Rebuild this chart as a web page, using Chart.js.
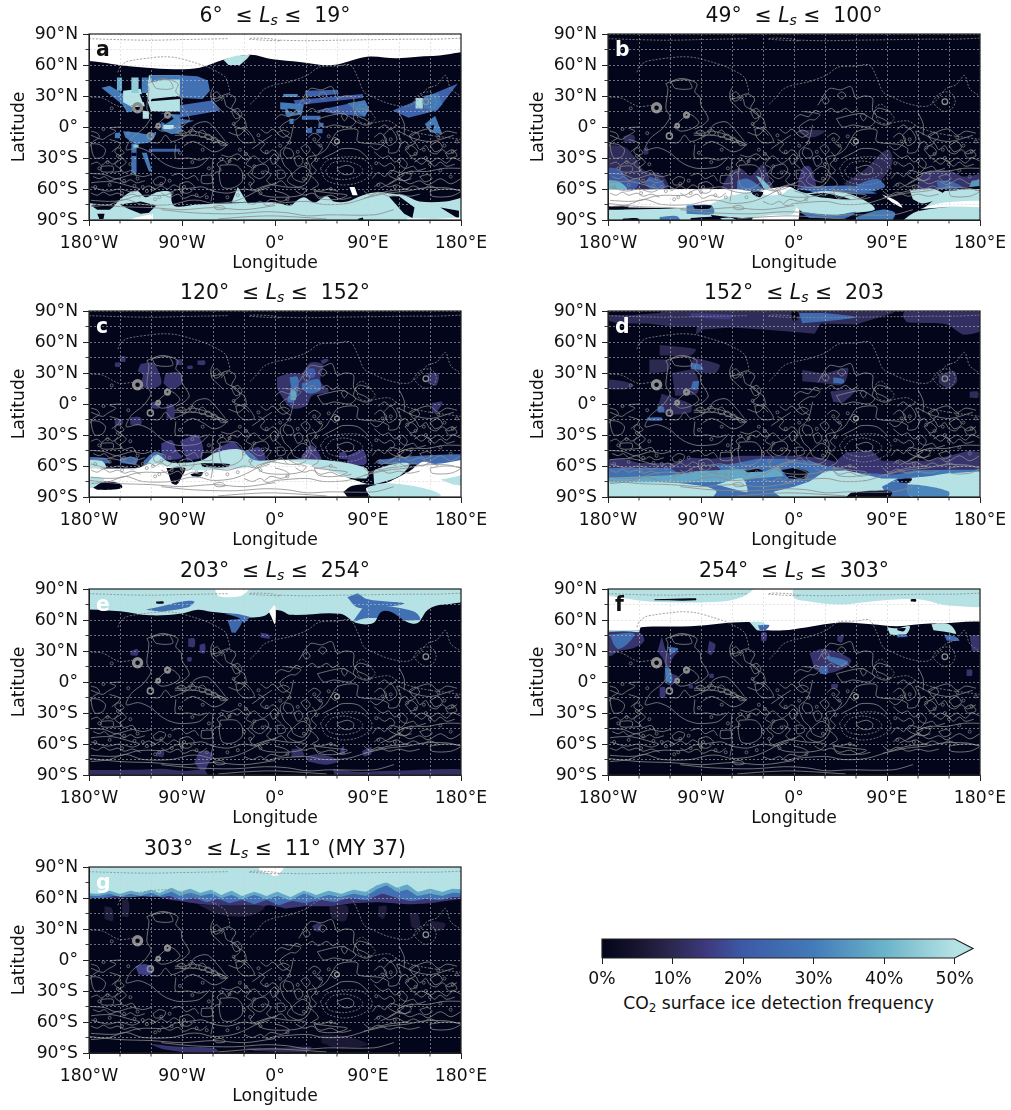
<!DOCTYPE html>
<html>
<head>
<meta charset="utf-8">
<title>CO2 surface ice detection frequency</title>
<script src="https://cdn.jsdelivr.net/npm/chart.js@4/dist/chart.umd.min.js"></script>
<style>
  body { margin: 0; background: #fff; font-family: "DejaVu Sans", sans-serif; color: #111; }
  #page { position: relative; width: 1011px; height: 1110px; overflow: hidden; }
  canvas { position: absolute; }
  .title { position: absolute; width: 372px; text-align: center; font-size: 20.4px; line-height: 24px; white-space: pre; }
  .title sub { font-size: 14px; line-height: 0; vertical-align: -3px; font-style: italic; }
  .letter { position: absolute; font-weight: bold; font-size: 20.4px; line-height: 24px; }
  .barlabel { position: absolute; left: 560px; width: 437px; top: 992px; text-align: center; font-size: 17.2px; line-height: 22px; }
  .barlabel sub { font-size: 12px; line-height: 0; vertical-align: -3px; }
</style>
</head>
<body>
<div id="page"></div>
<script>
// tick labels
const lonLabels = { '-180': '180°W', '-90': '90°W', '0': '0°', '90': '90°E', '180': '180°E' };
const latLabels = { '90': '90°N', '60': '60°N', '30': '30°N', '0': '0°', '-30': '30°S', '-60': '60°S', '-90': '90°S' };
const colorbarTicks = [0, 10, 20, 30, 40, 50];

// [detection percent, outline in lon/lat]. percent null = no data (white)
const panelA = [
  [0, [[-180,65.5],[-169,62.6],[-147,59.4],[-124,57.4],[-98,56],[-73,57.4],[-50,65],[-24,70],[-2,65.5],[24,63],[56,60],[89,68],[118,66.5],[153,68.7],[180,66.5],[180,-90],[-180,-90]]],
  [50, [[-50,65],[-38,69],[-24,70],[-27,66],[-34,60],[-45,60]]],
  [50, [[-180,-68],[-177,-74],[-170,-78],[-158,-78],[-152,-72],[-140,-63],[-133,-62],[-125,-68],[-114,-63],[-101,-63],[-100,-72],[-96,-77],[-75,-75],[-50,-74],[-15,-73],[0,-73],[15,-76],[20,-72],[28,-68],[38,-73],[50,-67],[57,-72],[70,-72],[85,-66],[100,-63],[110,-64],[125,-66],[140,-72],[165,-72],[180,-67],[180,-90],[-180,-90]]],
  [0, [[-178,-76],[-165,-75],[-156,-77],[-160,-80],[-172,-80]]],
  [0, [[-150,-75],[-130,-72],[-115,-76],[-122,-83],[-130,-84],[-142,-79]]],
  [50, [[-42,-73],[-36,-58],[-27,-73]]],
  [0, [[110,-67],[120,-67],[135,-78],[133,-88],[125,-84]]],
  [0, [[160,-78],[178,-81],[178,-89]]],
  [0, [[80,-89],[85,-87.5],[87,-90]]],
  [0, [[-172,-84],[-170,-89],[-166,-89],[-165,-84]]],
  [null, [[72,-58],[77,-58],[80,-66],[75,-66]]],
  [null, [[-163,-90],[-135,-87.5],[-118,-84],[-118,-90]]],
  [null, [[128,-88],[155,-89],[180,-86],[180,-90],[128,-90]]],
  // Tharsis swaths
  [27, [[-92,50],[-75,49],[-65,45],[-63,35],[-70,27],[-92,28]]],
  [24, [[-92,21],[-60,26],[-53,16],[-92,9]]],
  [50, [[-122,50],[-92,50],[-92,15],[-120,15],[-125,30]]],
  [30, [[-121,50],[-92,50],[-92,46],[-108,46],[-120,43]]],
  [0, [[-120,27],[-92,30],[-92,27],[-120,25]]],
  [30, [[-168,38],[-160,40],[-138,27],[-135,16],[-143,14],[-148,22]]],
  [50, [[-147,35],[-130,37],[-126,20],[-138,19],[-147,24]]],
  [38, [[-153,48],[-148,48],[-148,35],[-153,35]]],
  [45, [[-139,48],[-132,48],[-132,33],[-139,33]]],
  [30, [[-129,48],[-123,48],[-123,33],[-129,33]]],
  [0, [[-131,32],[-124,31],[-122,25],[-128,24]]],
  [30, [[-110,13],[-92,12],[-90,-5],[-100,-7],[-110,-3]]],
  [24, [[-92,8],[-78,6],[-92,2]]],
  [0, [[-113,12],[-103,13],[-98,8],[-106,3],[-112,6]]],
  [0, [[-120,15],[-114,15],[-114,10],[-120,10]]],
  [50, [[-128,16],[-122,15],[-122,8],[-128,8]]],
  [0, [[-137,9],[-131,9],[-131,3],[-137,3]]],
  [30, [[-147,-4],[-135,-5],[-122,-7],[-115,-5],[-120,-14],[-128,-16],[-136,-16],[-145,-10]]],
  [30, [[-155,-6],[-150,-5],[-150,-11],[-155,-11]]],
  [28, [[-139,-16],[-134,-16],[-134,-45],[-139,-45]]],
  [0, [[-139,-25],[-134,-25],[-134,-28],[-139,-28]]],
  [30, [[-129,-25],[-124,-25],[-119,-43],[-122,-43]]],
  [45, [[-137,-17],[-132,-17],[-132,-20],[-137,-20]]],
  [22, [[-122,-21],[-92,-21],[-92,-24],[-122,-24]]],
  [50, [[-108,2],[-98,2],[-98,-2],[-108,-2]]],
  // Arabia swaths
  [22, [[29,35],[60,36],[62,32],[30,29]]],
  [32, [[8,32],[22,32],[22,29],[8,29]]],
  [20, [[18,26],[85,32],[85,28],[20,21]]],
  [21, [[40,16],[87,26],[91,18],[87,10],[56,13]]],
  [30, [[70,23],[87,26],[91,18],[87,10],[80,14]]],
  [30, [[5,24],[28,22],[26,12],[12,10],[5,18]]],
  [0, [[12,18],[20,17],[22,13],[14,14]]],
  [0, [[5,17],[10,17],[10,12],[5,12]]],
  [26, [[26,11],[44,11],[44,7],[26,7]]],
  [30, [[14,8],[18,8],[18,3],[14,3]]],
  [24, [[30,-1],[36,-1],[36,-6],[30,-6]]],
  [24, [[40,-2],[46,-2],[46,-6],[40,-6]]],
  [24, [[42,4],[47,4],[47,0],[42,0]]],
  // Elysium swaths
  [22, [[114,16],[177,42],[157,16],[129,9]]],
  [30, [[144,30],[158,33],[162,22],[156,16],[144,18]]],
  [48, [[136,28],[143,28],[143,18],[136,18]]],
  [30, [[145,3],[155,11],[162,-7],[150,-5]]],
  [0, [[150,1],[154,2],[153,-3],[150,-3]]]
];

const panelB = [
  [0, [[-180,90],[180,90],[180,-90],[-180,-90]]],
  [11, [[-165,-9],[-155,-8],[-155,-15],[-165,-15]]],
  [11, [[-180,-18],[-165,-19],[-155,-28],[-145,-42],[-130,-45],[-122,-55],[-125,-62],[-180,-62]]],
  [12, [[-146,-22],[-142,-19],[-141,-26],[-145,-27]]],
  [20, [[-180,-42],[-172,-40],[-160,-50],[-150,-52],[-155,-60],[-180,-60]]],
  [22, [[-140,-48],[-128,-52],[-125,-58],[-138,-60],[-145,-55]]],
  [40, [[-180,-53],[-172,-52],[-162,-60],[-180,-60]]],
  [12, [[-72,-62],[-62,-45],[-52,-40],[-42,-47],[-30,-36],[-24,-50],[-17,-64]]],
  [27, [[-55,-52],[-45,-50],[-35,-56],[-28,-63],[-55,-63]]],
  [42, [[-37,-47],[-31,-50],[-20,-63],[-27,-63]]],
  [14, [[3,-60],[8,-40],[15,-38],[20,-50],[22,-60]]],
  [10, [[5,-6],[18,-10],[30,-4],[20,-3],[5,-3]]],
  [11, [[48,-55],[70,-40],[85,-25],[92,-22],[95,-35],[80,-55],[60,-62]]],
  [25, [[60,-56],[80,-50],[88,-58],[68,-62]]],
  [13, [[118,-60],[125,-45],[150,-42],[165,-48],[180,-42],[180,-60]]],
  [24, [[138,-53],[150,-52],[165,-60],[140,-60]]],
  [35, [[172,-52],[180,-50],[180,-62],[168,-62]]],
  [28, [[8,-58],[60,-57],[80,-62],[20,-64]]],
  [null, [[-180,-61],[-60,-60],[-40,-62],[0,-60],[0,-90],[-45,-90],[-40,-85],[-80,-80],[-180,-77]]],
  [50, [[-85,-77],[-65,-68],[-40,-63],[-25,-66],[-10,-64],[-5,-60],[0,-60],[0,-83],[-20,-85],[-50,-88],[-90,-84]]],
  [50, [[-180,-80],[-120,-79],[-85,-77],[-78,-88],[-60,-88],[-45,-90],[-180,-90]]],
  [30, [[-104,-76],[-80,-76],[-78,-84],[-104,-84]]],
  [0, [[-98,-76],[-80,-76],[-82,-79],[-96,-79]]],
  [30, [[-130,-87],[-112,-87],[-112,-90],[-130,-90]]],
  [0, [[-180,-77],[-160,-77],[-165,-79.5],[-180,-79.5]]],
  [0, [[-165,-88.5],[-150,-89],[-155,-90],[-175,-90]]],
  [0, [[-100,-88],[-72,-88],[-68,-90],[-100,-90]]],
  [0, [[-42,-62],[-30,-63],[-33,-68],[-40,-65]]],
  [25, [[2,-60],[12,-58],[40,-58],[80,-64],[30,-64]]],
  [50, [[0,-60],[12,-64],[30,-62],[55,-65],[75,-75],[78,-80],[60,-83],[30,-86],[10,-83],[0,-76]]],
  [0, [[14,-65],[30,-64],[55,-70],[45,-70],[25,-68]]],
  [0, [[80,-65],[95,-62],[100,-68],[90,-68]]],
  [27, [[5,-82],[40,-85],[60,-82],[50,-88],[15,-88]]],
  [30, [[60,-87],[85,-80],[98,-84],[85,-90],[60,-90]]],
  [50, [[95,-90],[122,-81],[180,-80],[180,-90]]],
  [50, [[112,-61],[135,-60],[145,-66],[125,-74],[115,-70]]],
  [50, [[146,-62],[180,-60],[180,-73],[125,-79]]],
  [null, [[122,-79],[146,-73],[180,-72],[180,-77],[150,-77]]],
  [null, [[85,-65],[100,-72],[105,-78],[95,-73]]],
  [0, [[152,-60],[180,-56],[180,-60]]]
];

const panelC = [
  [0, [[-180,90],[180,90],[180,-90],[-180,-90]]],
  // Tharsis
  [13, [[-130,39],[-118,40],[-113,32],[-110,20],[-118,15],[-130,18],[-128,28],[-133,32]]],
  [13, [[-106,30],[-92,30],[-90,20],[-100,14],[-108,20]]],
  [13, [[-150,46],[-145,46],[-145,41],[-150,41]]],
  [13, [[-155,40],[-150,40],[-150,36],[-155,36]]],
  [13, [[-96,43],[-90,43],[-90,38],[-96,38]]],
  [13, [[-85,37],[-80,37],[-80,34],[-85,34]]],
  [13, [[-75,42],[-68,42],[-68,38],[-75,38]]],
  [13, [[-140,-13],[-130,-13],[-130,-20],[-140,-20]]],
  [13, [[-155,-15],[-148,-15],[-148,-20],[-155,-20]]],
  [13, [[-105,-1],[-98,-1],[-98,-14],[-105,-14]]],
  [13, [[-120,2],[-112,2],[-112,-4],[-120,-4]]],
  // Arabia
  [13, [[2,26],[16,30],[26,30],[34,40],[46,38],[44,22],[52,12],[36,8],[30,-2],[16,-4],[8,5],[2,15]]],
  [13, [[46,38],[52,42],[50,44],[44,42]]],
  [28, [[14,26],[22,26],[22,12],[18,2],[12,3],[16,14]]],
  [38, [[15,14],[20,12],[20,4],[15,4]]],
  [26, [[26,20],[42,24],[44,14],[34,10],[26,14]]],
  [20, [[30,34],[38,34],[38,26],[30,26]]],
  [13, [[148,30],[158,29],[156,18],[148,20]]],
  [13, [[152,1],[162,2],[156,-8],[152,-8]]],
  // southern fringe
  [15, [[-110,-38],[-100,-35],[-95,-45],[-90,-52],[-110,-55]]],
  [15, [[-92,-36],[-75,-30],[-70,-50],[-85,-55]]],
  [15, [[-60,-45],[-50,-40],[-40,-37],[-30,-45],[-15,-42],[-10,-55],[-60,-58]]],
  [15, [[25,-52],[35,-40],[45,-53],[40,-57],[25,-57]]],
  [15, [[62,-47],[68,-47],[70,-53],[62,-53]]],
  [15, [[70,-50],[85,-45],[88,-58],[70,-58]]],
  [25, [[-180,-52],[-165,-52],[-160,-57],[-180,-58]]],
  [25, [[-150,-52],[-133,-52],[-135,-58],[-150,-57]]],
  [25, [[-127,-55],[-116,-46],[-108,-50],[-108,-60],[-127,-60]]],
  [28, [[-60,-50],[-30,-45],[-18,-52],[-15,-60],[-60,-60]]],
  [25, [[100,-54],[140,-50],[180,-50],[180,-58],[100,-58]]],
  [50, [[-180,-55],[-168,-55],[-164,-62],[-180,-62]]],
  [50, [[-127,-62],[-115,-49],[-105,-55],[-98,-57],[-72,-55],[-57,-47],[-34,-44],[-21,-54],[0,-54],[45,-54],[88,-62],[88,-72],[30,-66],[-120,-66]]],
  [50, [[95,-64],[115,-58],[130,-58],[120,-70],[96,-78]]],
  [null, [[-180,-62],[-135,-62],[-120,-58],[-100,-61],[-80,-64],[-40,-63],[-10,-58],[5,-54],[20,-56],[45,-62],[60,-67],[75,-73],[100,-78],[130,-65],[143,-56],[155,-58],[180,-56],[180,-90],[-180,-90]]],
  [50, [[-180,-70],[-166,-72],[-170,-80],[-180,-81]]],
  [50, [[160,-73],[180,-68],[180,-80],[172,-78]]],
  [0, [[-176,-81],[-165,-75],[-150,-77],[-148,-81],[-160,-83],[-172,-83]]],
  [0, [[-105,-62],[-87,-62],[-90,-70],[-95,-78],[-100,-77]]],
  [0, [[-72,-57],[-44,-58],[-46,-61],[-70,-61]]],
  [0, [[-82,-68],[-70,-66],[-72,-70],[-80,-70]]],
  [50, [[88,-78],[115,-77],[150,-83],[160,-89],[110,-90],[95,-90]]],
  [0, [[66,-85],[75,-79],[98,-78],[88,-82],[98,-90],[78,-90]]],
  [0, [[90,-62],[97,-60],[95,-66],[90,-66]]]
];

const panelD = [
  [0, [[-180,90],[180,90],[180,-90],[-180,-90]]],
  [11, [[-180,86],[-170,78],[-142,78],[-118,75],[-94,75],[-95,67],[-88,72],[-60,74],[-30,72],[-2,70],[20,68],[26,78],[60,77],[96,88],[100,90],[-115,90],[-130,88],[-160,86]]],
  [25, [[5,88],[28,88],[60,84],[30,80],[8,78]]],
  [15, [[-100,88],[-60,86],[-62,82],[-100,84]]],
  [12, [[105,85],[110,79],[148,77],[165,67],[180,78],[180,90],[110,90]]],
  [0, [[0,90],[5,84],[0,80],[-3,85]]],
  // Tharsis and Arabia patches
  [10, [[-130,57],[-95,53],[-100,47],[-130,47]]],
  [10, [[-140,43],[-120,42],[-122,32],[-140,30]]],
  [11, [[-118,30],[-98,33],[-92,22],[-94,10],[-115,8]]],
  [11, [[-98,45],[-72,38],[-76,30],[-100,32]]],
  [11, [[-128,10],[-100,0],[-100,-8],[-122,-10],[-132,-4]]],
  [26, [[-100,40],[-90,38],[-88,33],[-100,34]]],
  [25, [[-132,-2],[-126,-3],[-126,-8],[-132,-8]]],
  [25, [[-142,-13],[-128,-13],[-128,-16],[-142,-16]]],
  [25, [[-98,22],[-92,22],[-94,14],[-100,14]]],
  [11, [[-180,25],[-165,22],[-155,18],[-165,14],[-180,16]]],
  [11, [[8,33],[30,30],[52,35],[50,22],[44,18],[30,20],[8,22]]],
  [25, [[38,26],[48,24],[48,20],[38,20]]],
  [12, [[35,12],[60,14],[48,2],[38,2]]],
  [11, [[140,28],[155,32],[158,22],[150,15],[140,20]]],
  [11, [[170,12],[178,12],[178,6],[170,6]]],
  // south
  [13, [[-180,-54],[-165,-53],[-150,-57],[-115,-57],[-100,-52],[-80,-53],[-50,-50],[0,-50],[25,-52],[40,-56],[50,-47],[75,-45],[85,-55],[130,-55],[150,-50],[170,-45],[180,-50],[180,-90],[-180,-90]]],
  [27, [[-180,-62],[-120,-62],[-60,-58],[-35,-53],[-10,-53],[15,-55],[30,-60],[60,-64],[180,-64],[180,-90],[-180,-90]]],
  [13, [[-120,-62],[-75,-60],[-70,-68],[-110,-68]]],
  [14, [[40,-64],[65,-62],[120,-62],[100,-68],[60,-66]]],
  [38, [[-180,-72],[-120,-69],[-95,-65],[-50,-63],[-30,-66],[-15,-60],[-10,-70],[-40,-72],[-60,-75],[-100,-76],[-180,-78]]],
  [50, [[-180,-76],[-120,-76],[-85,-80],[-75,-85],[-90,-90],[-180,-90]]],
  [50, [[-75,-78],[-50,-72],[-45,-85],[-60,-82]]],
  [50, [[-20,-85],[0,-80],[15,-75],[30,-65],[50,-64],[85,-72],[100,-72],[85,-80],[90,-88],[65,-85],[60,-90],[0,-90]]],
  [50, [[110,-72],[130,-70],[155,-66],[180,-65],[180,-90],[120,-90],[110,-85]]],
  [32, [[110,-88],[110,-78],[150,-85],[145,-90]]],
  [30, [[100,-66],[130,-64],[180,-64],[130,-68]]],
  [0, [[-12,-64],[2,-62],[14,-66],[10,-72],[-5,-72]]],
  [0, [[100,-73],[114,-72],[112,-76],[102,-76]]],
  [0, [[55,-86],[75,-84],[95,-85],[85,-90],[40,-90]]],
  [0, [[-48,-64],[-35,-63],[-30,-65],[-45,-66]]]
];

const panelE = [
  [50, [[-180,90],[180,90],[180,50],[-180,50]]],
  [null, [[-63,90],[-21,90],[-30,85],[-45,82],[-55,83]]],
  [27, [[-125,70],[-115,72],[-90,78],[-78,78],[-85,72],[-110,68]]],
  [27, [[80,86],[90,80],[125,76],[100,72],[80,72],[70,82]]],
  [27, [[75,58],[90,62],[140,60],[135,68],[100,74],[85,72]]],
  [0, [[-180,71],[-150,68.5],[-121,64.5],[-92,66],[-75,70],[-62,68],[-43,66],[-24,62.5],[-10,64],[-3,69],[6,69],[15,65],[63,66],[79,57],[95,57],[103,68],[112,68],[128,58],[138,57],[148,70],[163,75],[180,71.5],[180,-90],[-180,-90]]],
  [27, [[-24,63],[-38,66],[-48,66],[-35,62],[-30,57]]],
  [0, [[-115,78],[-108,78],[-108,76],[-115,76]]],
  [null, [[-6,68],[0,74],[0,56],[-4,64]]],
  [24, [[-46,60],[-32,60],[-38,48],[-42,48]]],
  [14, [[-14,48],[-6,46],[-5,42],[-14,43]]],
  [13, [[-140,30],[-133,32],[-133,26],[-140,26]]],
  [13, [[-84,42],[-78,42],[-78,34],[-84,34]]],
  [14, [[-73,36],[-68,37],[-68,28],[-73,28]]],
  [14, [[-85,24],[-81,24],[-81,20],[-85,20]]],
  [12, [[-115,-68],[-108,-66],[-108,-72],[-115,-72]]],
  [14, [[-78,-78],[-72,-67],[-60,-70],[-65,-80],[-68,-86],[-72,-86]]],
  [12, [[16,-65],[25,-65],[28,-72],[16,-73]]],
  [13, [[30,-72],[42,-70],[62,-76],[50,-80],[32,-77]]],
  [15, [[62,-70],[66,-62],[68,-70]]],
  [13, [[84,-67],[93,-63],[93,-70],[86,-72]]],
  [12, [[-180,-85],[-130,-85],[-110,-84],[-90,-86],[-68,-86],[-65,-90],[-180,-90]]],
  [12, [[56,-84],[80,-87],[110,-86],[180,-86],[180,-90],[60,-90]]]
];

const panelF = [
  [null, [[-180,90],[180,90],[180,50],[-180,50]]],
  [50, [[-180,85],[-170,82],[-140,78],[-70,78],[-45,85],[-35,90],[-180,90]]],
  [50, [[0,90],[0,82],[15,78],[45,75],[75,78],[120,80],[150,74],[180,76],[180,90]]],
  [0, [[-135,80],[-95,81],[-95,79],[-135,79]]],
  [0, [[113,80],[118,80],[118,78],[113,78]]],
  [0, [[-180,50],[-150,50],[-148,53],[-100,54],[-40,58],[-32,51],[-25,50],[-10,50],[0,51],[45,57.5],[75,56],[100,54],[135,56.5],[180,49],[180,-90],[-180,-90]]],
  [50, [[-43,58],[-32,58],[-28,56],[-30,50],[-36,50]]],
  [50, [[90,53],[100,52],[112,54],[108,46],[93,46]]],
  [0, [[100,52],[108,52],[106,49],[100,50]]],
  [50, [[133,56],[150,56],[157,47],[150,48],[135,50]]],
  [50, [[-180,50],[-150,50],[-150,48],[-180,48]]],
  [13, [[-180,48],[-150,48],[-145,40],[-155,33],[-170,30],[-178,25],[-180,30]]],
  [26, [[-178,46],[-155,47],[-160,38],[-170,32],[-175,37]]],
  [13, [[-128,44],[-122,28],[-112,30],[-118,22],[-120,10],[-112,5],[-118,-3],[-125,0],[-125,18],[-132,30]]],
  [26, [[-122,34],[-112,32],[-120,26]]],
  [30, [[-125,14],[-120,12],[-118,0],[-124,0]]],
  [14, [[-130,-5],[-125,-5],[-125,-15],[-130,-15]]],
  [13, [[-82,40],[-76,36],[-80,26],[-84,28]]],
  [13, [[-82,8],[-78,8],[-78,4],[-82,4]]],
  [13, [[-102,-3],[-98,-3],[-98,-6],[-102,-6]]],
  [14, [[-32,48],[-27,48],[-27,40],[-32,40]]],
  [24, [[-35,55],[-24,55],[-28,50],[-33,50]]],
  [13, [[42,44],[48,46],[46,38],[42,40]]],
  [13, [[15,28],[30,32],[55,22],[50,14],[30,8],[20,12]]],
  [28, [[30,26],[52,20],[48,15],[34,20]]],
  [24, [[25,15],[32,15],[32,8],[25,8]]],
  [13, [[36,-2],[42,-2],[42,-6],[36,-6]]],
  [24, [[100,46],[108,46],[110,44],[100,43]]],
  [25, [[145,46],[156,44],[160,40],[148,40]]],
  [13, [[170,45],[180,45],[180,28],[172,30]]],
  [13, [[167,12],[172,12],[172,6],[167,6]]]
];

const panelG = [
  [50, [[-180,90],[180,90],[180,50],[-180,50]]],
  [null, [[-22,90],[12,90],[5,84],[0,81],[-6,84],[-14,86]]],
  [38, [[-180,66],[-170,64],[-160,67],[-150,64],[-140,67],[-130,65],[-120,68],[-112,65],[-100,70],[-92,66],[-82,69],[-72,65],[-62,68],[-52,63],[-42,67],[-32,62],[-20,66],[-8,62],[2,66],[15,61],[28,67],[40,63],[52,67],[64,64],[76,68],[88,66],[98,72],[108,75],[118,70],[128,73],[138,66],[150,69],[162,66],[172,69],[180,66],[180,50],[-180,50]]],
  [27, [[-180,63],[-170,62],[-160,64],[-150,61],[-140,64],[-130,62],[-120,65],[-112,62],[-100,66],[-92,62],[-82,65],[-72,62],[-62,64],[-52,60],[-42,63],[-32,59],[-20,63],[-8,59],[2,62],[15,58],[28,64],[40,60],[52,63],[64,61],[76,64],[88,62],[98,68],[108,72],[118,66],[128,68],[138,62],[150,64],[162,62],[172,65],[180,63],[180,50],[-180,50]]],
  [14, [[-180,61],[-168,60],[-155,62],[-140,60],[-128,62],[-115,60],[-102,62],[-90,58],[-78,60],[-66,56],[-55,59],[-44,55],[-32,58],[-20,54],[-8,58],[4,53],[16,57],[30,55],[44,58],[58,56],[72,60],[88,58],[104,64],[118,60],[132,57],[146,59],[160,58],[172,61],[180,60],[180,50],[-180,50]]],
  [0, [[-180,60],[-160,60],[-135,61],[-112,61],[-100,58],[-85,56],[-70,54],[-55,52],[-40,52],[-20,51],[-5,53],[10,50],[30,52],[55,52],[75,55],[100,56],[130,54],[150,55],[180,59],[180,-90],[-180,-90]]],
  [7, [[-75,54],[-45,53],[-10,52],[-20,44],[-40,42],[-60,46]]],
  [7, [[-165,52],[-158,50],[-157,38],[-165,40]]],
  [7, [[-148,58],[-142,58],[-142,42],[-148,42]]],
  [7, [[52,52],[70,52],[68,38],[55,40]]],
  [7, [[100,52],[108,52],[105,40],[100,42]]],
  [7, [[130,45],[138,45],[140,30],[132,32]]],
  [12, [[36,33],[44,36],[44,28],[38,28]]],
  [7, [[150,38],[165,35],[160,28],[150,30]]],
  [16, [[-135,-6],[-125,-4],[-118,-8],[-120,-14],[-132,-14]]],
  [13, [[-122,-81],[-90,-84],[-60,-85],[-55,-89],[-90,-89],[-110,-86]]],
  [10, [[-30,-85],[0,-85],[35,-84],[30,-89],[-20,-88]]],
  [6, [[45,-72],[70,-74],[90,-82],[60,-85],[45,-80]]]
];

// surface contours shared by every panel
const contourDashed = [
  [[-180,85.5],[-150,84.5],[-120,84],[-95,84.5],[-70,85],[-45,85.5]],
  [[-25,85],[-10,84],[5,83.5],[-5,85.5],[-22,86],[-25,85]],
  [[5,84],[30,83.5],[60,84],[95,84.5],[130,85],[155,85],[180,86]],
  [[-152,53],[-150,58],[-144,63],[-135,65],[-120,67],[-108,68],[-95,67],[-80,63],[-65,58],[-55,53],[-48,48],[-45,40],[-44,33],[-50,28],[-52,25]],
  [[-178,29],[-167,28],[-151,20],[-138,21]],
  [[-24,22],[-18,28],[-10,37],[1,41],[15,44],[31,50],[43,58],[60,59],[73,60],[80,48],[86,34],[93,30],[109,23],[128,20],[138,26],[147,37],[157,41],[165,50],[170,37],[178,31]],
  [[134,24],[139,31],[146,34],[153,32],[156,25],[153,18],[146,15],[140,18],[134,24]],
  [[78,15],[80,20],[85,22],[92,15],[97,8],[90,3],[82,5],[78,15]],
  [[90,3],[110,6],[120,0],[135,-5],[150,-8],[165,-10],[180,-12]],
  [[44,-40],[51,-32],[67,-29],[83,-30],[93,-38],[93,-46],[80,-54],[64,-56],[49,-51],[44,-40]],
  [[49,-42],[55,-35],[68,-33],[81,-37],[85,-42],[80,-48],[65,-51],[52,-48],[49,-42]]
];
const contourSolid = [
  // Tharsis
  [[-119,44],[-103,45.5],[-99,37.5],[-115,37.5],[-119,44]],
  [[-124,42],[-109,47],[-94,42],[-96,34],[-91,29],[-90,21],[-83,8],[-88,2],[-96,-2]],
  [[-124,42],[-122,37],[-124,18],[-120,10],[-126,0],[-129,-3],[-139,-11],[-144,-22],[-132,-20],[-120,-25],[-112,-32],[-104,-37],[-94,-40],[-84,-40],[-73,-38],[-63,-29]],
  [[-96,-17],[-96,-30],[-84,-30],[-73,-32],[-66,-30]],
  [[-120,-15],[-112,-15],[-106,-8],[-100,-14],[-91,-11],[-82,-6],[-78,2],[-66,5],[-56,-4],[-48,-14]],
  [[-116,0],[-108,8],[-100,12],[-92,4],[-100,-2],[-110,-4],[-116,0]],
  [[-97,-6],[-88,-6],[-80,-4],[-70,-6],[-62,-9],[-55,-13],[-47,-16]],
  [[-97,-8],[-88,-8],[-78,-8],[-68,-10],[-60,-13],[-52,-16],[-46,-18]],
  [[-95,-5],[-90,-3],[-86,-6],[-88,-9],[-95,-5]],
  [[-84,-4],[-80,-2],[-76,-6],[-80,-8],[-84,-4]],
  [[-74,-5],[-70,-3],[-66,-8],[-72,-10],[-74,-5]],
  [[-68,-8],[-64,-7],[-60,-11],[-66,-12],[-68,-8]],
  [[-62,-10],[-58,-10],[-54,-14],[-60,-15],[-62,-10]],
  [[-56,-13],[-52,-14],[-47,-17],[-52,-18],[-56,-13]],
  [[-88,-18],[-80,-14],[-70,-18],[-60,-24],[-52,-22],[-45,-16]],
  // north of the valles
  [[-62,27],[-50,28],[-47,20],[-37,15],[-34,8],[-40,2],[-30,-3],[-25,-8]],
  [[-60,38],[-62,33],[-61,25],[-56,20],[-50,14]],
  [[-52,30],[-45,32],[-38,27],[-42,18],[-36,12],[-30,8],[-28,0],[-35,-8],[-45,-5]],
  [[-60,32],[-56,34],[-52,28],[-58,25],[-60,32]],
  [[-42,15],[-36,18],[-32,12],[-38,8],[-42,15]],
  [[-38,-2],[-30,-1],[-24,-6],[-20,-14],[-30,-15],[-36,-10],[-38,-2]],
  // Arabia and Syrtis
  [[23,21],[34,37],[45,36],[55,39],[60,28],[68,30],[76,28],[76,16],[81,10],[86,8],[93,3],[86,2],[76,8],[81,18],[93,15]],
  [[41,8],[57,12],[66,13],[72,10],[78,5],[72,0],[57,2],[47,0],[41,8]],
  [[9,15],[18,14],[25,12],[20,7],[15,7],[5,0],[8,-6],[15,-11]],
  [[0,8],[6,12],[14,10],[20,16],[26,14]],
  [[30,14],[36,18],[42,14],[50,18],[56,14],[62,18]],
  [[-14,-2],[-8,-6],[-2,-2],[4,-8]],
  [[64,11],[67,13],[70,10],[67,6],[64,11]],
  [[42,31],[46,34],[50,31],[46,27],[42,31]],
  [[27,26],[31,29],[34,25],[30,22],[27,26]],
  [[18,2],[15,-11],[12,-17],[5,-24],[9,-37],[15,-43],[18,-50],[28,-53],[34,-40],[31,-30],[41,-27],[49,-22],[54,-14],[60,-5],[70,-2],[80,-3],[80,-14],[102,-17],[110,-21],[110,-25],[118,-24],[122,-14],[118,-4],[134,-11],[151,-14],[173,-8]],
  [[54,-14],[58,-10],[62,-14],[58,-18],[54,-14]],
  [[2,-6],[8,-3],[14,-6],[8,-10],[2,-6]],
  [[10,-20],[16,-22],[18,-28],[12,-30],[8,-25],[10,-20]],
  [[25,-20],[30,-17],[34,-22],[30,-26],[25,-20]],
  [[18,-30],[24,-28],[27,-34],[22,-38],[18,-30]],
  [[2,-42],[8,-42],[10,-48],[3,-50],[2,-42]],
  [[20,-42],[27,-38],[35,-45],[30,-55],[22,-58],[12,-52],[20,-42]],
  [[-5,-30],[0,-26],[3,-32],[-2,-36],[-5,-30]],
  [[36,-24],[40,-30],[35,-36],[40,-42],[36,-46]],
  [[32,-10],[38,-6],[44,-10],[40,-16],[46,-20],[42,-26]],
  [[-16,-12],[-10,-16],[-14,-22],[-8,-26],[-2,-22],[4,-28],[0,-34],[6,-40]],
  [[-10,-42],[-4,-46],[-8,-52],[-2,-56],[6,-52],[12,-58]],
  [[32,-46],[38,-50],[42,-56],[36,-60],[44,-62],[52,-60],[60,-62]],
  [[20,-62],[28,-66],[36,-64],[44,-68],[54,-66],[64,-70],[74,-68]],
  [[0,-62],[8,-64],[14,-68],[6,-72],[-4,-70],[-10,-74]],
  [[-30,-72],[-22,-75],[-14,-72],[-8,-76],[0,-74]],
  // Hellas
  [[60,-40],[70,-37],[76,-40],[75,-45],[67,-46],[62,-43],[60,-40]],
  [[47,-30],[57,-25],[65,-21],[80,-22],[90,-30]],
  [[96,-24],[104,-30],[110,-28],[116,-34],[122,-30],[128,-36],[122,-44],[112,-42],[106,-48],[100,-44],[94,-50]],
  [[122,-46],[131,-43],[147,-43],[164,-40],[180,-40]],
  [[102,-59],[115,-53],[125,-46]],
  [[86,-69],[109,-64],[128,-62],[144,-59],[167,-59],[180,-62]],
  [[110,-55],[120,-50],[130,-55],[140,-52],[148,-56],[160,-50],[170,-55],[180,-50]],
  [[118,-48],[126,-52],[132,-47],[126,-44],[118,-48]],
  [[135,-34],[142,-30],[150,-34],[158,-30],[166,-35],[172,-30],[180,-33]],
  [[126,-22],[132,-18],[138,-24],[132,-28],[126,-22]],
  [[150,-18],[158,-14],[162,-20],[155,-24],[150,-18]],
  [[165,-25],[172,-22],[176,-28],[168,-30],[165,-25]],
  [[105,-8],[112,-2],[118,-12],[110,-18],[105,-8]],
  [[130,-8],[136,-5],[140,-10],[134,-14],[130,-8]],
  [[140,-48],[148,-46],[152,-50],[145,-53],[140,-48]],
  [[125,-8],[125,3],[120,14]],
  [[96,-10],[102,-6],[108,-12],[104,-18],[98,-22],[92,-18]],
  [[120,-18],[126,-14],[130,-18],[136,-16],[140,-22],[146,-18],[150,-24],[156,-26],[162,-22],[168,-26],[176,-22]],
  [[100,-34],[106,-38],[112,-35],[116,-40],[110,-46],[116,-50],[124,-52],[132,-50]],
  [[130,-28],[136,-32],[142,-36],[148,-32],[154,-38],[160,-34],[166,-38],[174,-36]],
  [[120,-36],[126,-40],[134,-38],[138,-42],[146,-40]],
  [[96,-58],[102,-54],[110,-58],[118,-56],[126,-60],[134,-57],[142,-60],[150,-57],[158,-60]],
  [[86,-62],[92,-66],[100,-63],[110,-67],[120,-65],[130,-67],[140,-65]],
  [[130,-10],[140,-4],[150,-2],[158,-8],[166,-4],[176,-6]],
  [[100,-2],[106,2],[112,-2],[118,2]],
  // western highlands
  [[-178,-16],[-170,-17],[-164,-22],[-167,-29],[-174,-30],[-177,-24],[-178,-16]],
  [[-178,-8],[-167,-12],[-162,-9],[-154,-4],[-160,-1],[-150,0]],
  [[-180,-20],[-176,-14],[-170,-10],[-172,-6],[-178,-4]],
  [[-160,-12],[-150,-16],[-155,-24],[-148,-30],[-155,-36],[-148,-42],[-158,-44]],
  [[-158,-24],[-152,-20],[-146,-25],[-150,-28],[-144,-34],[-150,-40],[-146,-44],[-138,-42],[-134,-48]],
  [[-178,-36],[-172,-34],[-168,-37],[-162,-33],[-157,-36],[-152,-32]],
  [[-168,-38],[-157,-38],[-157,-43],[-168,-43],[-168,-38]],
  [[-178,-45],[-165,-46],[-154,-50],[-138,-46],[-128,-48],[-120,-46]],
  [[-176,-48],[-170,-50],[-165,-48],[-160,-52],[-152,-50],[-146,-54],[-140,-51],[-134,-54],[-126,-52]],
  [[-178,-54],[-169,-53],[-157,-53],[-148,-55],[-138,-58],[-131,-60],[-138,-63],[-150,-60],[-162,-62],[-178,-58]],
  [[-178,-64],[-172,-66],[-166,-63],[-160,-66],[-152,-64],[-146,-67],[-138,-65],[-130,-68]],
  [[-128,-60],[-122,-57],[-116,-60],[-110,-57],[-104,-60],[-98,-56],[-92,-59]],
  [[-110,-64],[-102,-68],[-94,-65],[-88,-69],[-80,-66],[-72,-68],[-66,-64]],
  [[-178,-71],[-160,-72],[-148,-71],[-135,-67],[-125,-66],[-106,-66],[-96,-61],[-80,-59],[-70,-58],[-60,-62],[-45,-64],[-30,-60],[-18,-62],[-5,-58]],
  [[-178,-77],[-160,-75],[-145,-70],[-128,-75],[-100,-75],[-83,-71],[-73,-71],[-60,-74],[-40,-72],[-25,-66],[-12,-59],[1,-54]],
  [[-71,-47],[-61,-47],[-61,-54],[-71,-54],[-71,-47]],
  [[-53,-37],[-38,-37],[-32,-43],[-32,-53],[-41,-59],[-51,-58],[-54,-46],[-53,-37]],
  [[-60,-30],[-61,-45],[-60,-60],[-62,-72]],
  [[-58,-44],[-52,-42],[-56,-36],[-50,-32],[-46,-36],[-42,-30],[-36,-32],[-32,-28]],
  [[-30,-24],[-24,-30],[-28,-36],[-22,-40],[-26,-46],[-20,-52],[-24,-58],[-18,-62]],
  [[-22,-21],[-12,-14],[-3,-8]],
  [[-52,-27],[-44,-29],[-36,-26],[-28,-32],[-20,-28],[-12,-35],[-4,-30]],
  [[-100,-47],[-92,-45],[-86,-50],[-78,-47],[-74,-52]],
  [[-118,-52],[-112,-48],[-106,-50],[-108,-55],[-116,-56],[-118,-52]],
  [[-92,-55],[-84,-53],[-78,-58],[-84,-64],[-92,-62],[-92,-55]],
  [[-20,-38],[-10,-36],[-6,-42],[-14,-50],[-22,-46],[-20,-38]],
  [[-18,-60],[-5,-56],[10,-58],[30,-60],[25,-66],[5,-68],[-12,-66],[-18,-60]],
  [[38,-62],[55,-64],[70,-66],[60,-70],[42,-69],[38,-62]],
  [[150,-62],[165,-60],[180,-62],[170,-67],[152,-67],[150,-62]],
  // south polar
  [[0,-74],[31,-72],[47,-75],[70,-74],[93,-67],[110,-62],[130,-60]],
  [[-180,-74],[-150,-77],[-120,-78],[-90,-80],[-60,-78],[-30,-80],[0,-76]],
  [[-110,-80],[-80,-83],[-40,-84],[-10,-82],[12,-83],[31,-86],[52,-85],[96,-85],[115,-80]],
  [[-55,-89],[-30,-87],[-5,-86],[20,-87],[50,-89]],
  [[-60,-77],[-52,-76],[-48,-79],[-56,-80],[-60,-77]]
];

// small closed contours drawn as rings
const craterLon = [-170,-162,-152,-146,-140,-133,-128,-118,-110,-102,-88,-80,-70,-64,-52,-44,-34,-28,-20,-12,-8,5,14,22,30,38,44,52,98,104,112,120,128,136,144,150,158,164,172,176,-174,-160,-148,-136,-124,-112,-100,-90,-76,-66,-46,-36,-24,-14,28,40,54,100,116,132,146,160,170,-166,-142,-116,-92,-40,-16,-158,-30,12];
const craterLat = [-40,-34,-28,-52,-36,-50,-58,-60,-55,-52,-58,-34,-22,-40,-31,-33,-22,-26,-38,-44,-24,-18,-15,-24,-36,-12,-18,-9,-35,-14,-12,-33,-20,-26,-22,-36,-10,-18,-24,-14,-58,-56,-64,-57,-62,-68,-64,-63,-66,-68,-68,-66,-55,-64,-50,-32,-60,-56,-58,-44,-30,-42,-48,-2,-6,-70,-25,3,-8,18,-48,-70];

// volcano rings
const volcanoLon = [-133, -104, -113, -120.6, 146, 60];
const volcanoLat = [18.7, 11.5, 1.3, -8.6, 24.5, -14];

// colours of the colorbar, [percent, colour]
const colorStops = [[0,'#03051a'],[5,'#17142f'],[10,'#2c2850'],[15,'#3d3a80'],[20,'#3c5aa6'],[30,'#437bb9'],[40,'#6bb3c9'],[50,'#b5e2e4']];
const volcanoRadius = [4, 2.3, 1.8, 3, 2.8, 2.4];
const volcanoWidth = [3.4, 2.6, 2.2, 1.6, 1.3, 1.2];

const panels = [
  { letter: 'a', from: '6°', to: '19°', regions: panelA, x: 0, y: 0, ink: '#111', curveLong: 0.35, curveShort: 0 },
  { letter: 'b', from: '49°', to: '100°', regions: panelB, x: 519, y: 0, ink: '#fff', curveLong: 0.35, curveShort: 0.35 },
  { letter: 'c', from: '120°', to: '152°', regions: panelC, x: 0, y: 277, ink: '#fff', curveLong: 0.35, curveShort: 0.35 },
  { letter: 'd', from: '152°', to: '203', regions: panelD, x: 519, y: 277, ink: '#fff', curveLong: 0, curveShort: 0.25 },
  { letter: 'e', from: '203°', to: '254°', regions: panelE, x: 0, y: 555, ink: '#fff', curveLong: 0.35, curveShort: 0.35 },
  { letter: 'f', from: '254°', to: '303°', regions: panelF, x: 519, y: 555, ink: '#111', curveLong: 0.35, curveShort: 0.35 },
  { letter: 'g', from: '303°', to: '11° (MY 37)', regions: panelG, x: 0, y: 833, ink: '#fff', curveLong: 0.1, curveShort: 0.35 }
];

function hexToRgb(hex) {
  return [1, 3, 5].map(i => parseInt(hex.substr(i, 2), 16));
}

function pctColor(pct) {
  if (pct === null) return '#ffffff';
  for (let i = 1; i < colorStops.length; i++) {
    if (pct <= colorStops[i][0]) {
      const a = colorStops[i - 1], b = colorStops[i];
      const t = (pct - a[0]) / (b[0] - a[0]);
      const ca = hexToRgb(a[1]), cb = hexToRgb(b[1]);
      return 'rgb(' + ca.map((v, k) => Math.round(v + (cb[k] - v) * t)).join(',') + ')';
    }
  }
  return colorStops[colorStops.length - 1][1];
}

const toPoints = list => list.map(p => ({ x: p[0], y: p[1] }));

// outlines on the map edge are pushed past it, the curve rounding then falls outside the clip
const toEdgePoints = list => list.map(p => ({
  x: Math.abs(p[0]) === 180 ? p[0] * 1.1 : p[0],
  y: Math.abs(p[1]) === 90 ? p[1] * 1.1 : p[1]
}));

const fontBase = { family: '"DejaVu Sans", sans-serif', size: 17.2 };
const page = document.getElementById('page');

// minor tick stubs and the frame on all four sides
const framePlugin = {
  id: 'frame',
  afterDraw(chart) {
    const { ctx, chartArea: a, scales } = chart;
    ctx.save();
    ctx.strokeStyle = '#222';
    ctx.lineWidth = 1.2;
    ctx.strokeRect(a.left, a.top, a.right - a.left, a.bottom - a.top);
    ctx.lineWidth = 0.9;
    ctx.beginPath();
    scales.x.ticks.forEach(t => {
      if (t.value % 90 !== 0) {
        const px = scales.x.getPixelForValue(t.value);
        ctx.moveTo(px, a.bottom);
        ctx.lineTo(px, a.bottom + 3.5);
      }
    });
    scales.y.ticks.forEach(t => {
      if (t.value % 30 !== 0) {
        const py = scales.y.getPixelForValue(t.value);
        ctx.moveTo(a.left, py);
        ctx.lineTo(a.left - 3.5, py);
      }
    });
    ctx.stroke();
    ctx.restore();
  }
};

function addPanel(p) {
  const canvas = document.createElement('canvas');
  canvas.width = 495;
  canvas.height = 274;
  canvas.style.left = p.x + 'px';
  canvas.style.top = p.y + 'px';
  page.appendChild(canvas);

  const title = document.createElement('div');
  title.className = 'title';
  title.style.left = (p.x + 89) + 'px';
  title.style.top = (p.y + 3) + 'px';
  title.innerHTML = p.from + '  ≤ <i>L</i><sub>s</sub> ≤  ' + p.to;
  page.appendChild(title);

  const letter = document.createElement('div');
  letter.className = 'letter';
  letter.style.left = (p.x + 96) + 'px';
  letter.style.top = (p.y + 37) + 'px';
  letter.style.color = p.ink;
  letter.textContent = p.letter;
  page.appendChild(letter);

  const datasets = [];
  p.regions.forEach(r => {
    datasets.push({
      data: toEdgePoints(r[1]),
      showLine: true,
      fill: 'shape',
      tension: r[1].length > 7 ? p.curveLong : p.curveShort,
      backgroundColor: pctColor(r[0]),
      borderWidth: 0,
      pointRadius: 0
    });
  });
  contourSolid.forEach(line => {
    datasets.push({ data: toPoints(line), showLine: true, fill: false, tension: 0.3, borderColor: '#8a8a8a', borderWidth: 0.8, pointRadius: 0 });
  });
  contourDashed.forEach(line => {
    datasets.push({ data: toPoints(line), showLine: true, fill: false, tension: 0.3, borderColor: '#8a8a8a', borderWidth: 0.8, borderDash: [2, 1.5], pointRadius: 0 });
  });
  datasets.push({
    data: craterLon.map((lon, i) => ({ x: lon, y: craterLat[i] })),
    showLine: false,
    pointRadius: 1.5,
    pointBorderWidth: 0.7,
    pointBorderColor: '#8a8a8a',
    pointBackgroundColor: 'rgba(0,0,0,0)'
  });
  datasets.push({
    data: volcanoLon.map((lon, i) => ({ x: lon, y: volcanoLat[i] })),
    showLine: false,
    pointRadius: volcanoRadius,
    pointBorderWidth: volcanoWidth,
    pointBorderColor: '#8c8c8c',
    pointBackgroundColor: 'rgba(0,0,0,0)'
  });
  // later regions paint over earlier ones
  datasets.forEach((d, i) => { d.order = -i; });

  new Chart(canvas, {
    type: 'scatter',
    data: { datasets: datasets },
    plugins: [framePlugin],
    options: {
      responsive: false,
      animation: false,
      events: [],
      layout: { padding: { left: 0, top: 34, right: 34, bottom: 0 } },
      plugins: { legend: { display: false }, tooltip: { enabled: false } },
      scales: {
        x: {
          type: 'linear', min: -180, max: 180,
          afterFit(scale) { scale.height = 54; },
          ticks: {
            stepSize: 30, autoSkip: false, maxRotation: 0, padding: 7,
            color: '#111', font: fontBase,
            callback: v => lonLabels[v] || ''
          },
          grid: {
            z: 1, color: 'rgba(205,205,205,0.75)', lineWidth: 0.7, tickLength: 6,
            tickColor: ctx => (ctx.tick && ctx.tick.value % 90 === 0 ? '#222' : 'rgba(0,0,0,0)'),
            tickWidth: 1
          },
          border: { display: true, dash: [2, 2], color: '#222', z: 2 },
          title: { display: true, text: 'Longitude', color: '#111', font: fontBase, padding: 0 }
        },
        y: {
          type: 'linear', min: -90, max: 90,
          afterFit(scale) { scale.width = 89; },
          ticks: {
            stepSize: 15, autoSkip: false, padding: 5, labelOffset: 1,
            color: '#111', font: fontBase,
            callback: v => latLabels[v] || ''
          },
          grid: {
            z: 1, color: 'rgba(205,205,205,0.75)', lineWidth: 0.7, tickLength: 6,
            tickColor: ctx => (ctx.tick && ctx.tick.value % 30 === 0 ? '#222' : 'rgba(0,0,0,0)'),
            tickWidth: 1
          },
          border: { display: true, dash: [2, 2], color: '#222', z: 2 },
          title: { display: true, text: 'Latitude', color: '#111', font: fontBase, padding: { top: 9, bottom: 0 } }
        }
      }
    }
  });
}

panels.forEach(addPanel);

// colorbar with the arrow end
const barEdgeX = [0, 50, 52.6, 50, 0, 0];
const barEdgeY = [0, 0, 0.5, 1, 1, 0];

function addColorbar() {
  const canvas = document.createElement('canvas');
  canvas.width = 440;
  canvas.height = 66;
  canvas.style.left = '560px';
  canvas.style.top = '925px';
  page.appendChild(canvas);

  const label = document.createElement('div');
  label.className = 'barlabel';
  label.innerHTML = 'CO<sub>2</sub> surface ice detection frequency';
  page.appendChild(label);

  new Chart(canvas, {
    type: 'scatter',
    data: {
      datasets: [{
        data: barEdgeX.map((x, i) => ({ x: x, y: barEdgeY[i] })),
        showLine: true,
        fill: 'shape',
        clip: false,
        borderColor: '#222',
        borderWidth: 1.2,
        pointRadius: 0,
        backgroundColor(ctx) {
          const chart = ctx.chart;
          const s = chart.scales.x;
          const x0 = s ? s.getPixelForValue(0) : NaN;
          const x1 = s ? s.getPixelForValue(50) : NaN;
          if (!isFinite(x0) || !isFinite(x1)) return colorStops[0][1];
          const g = chart.ctx.createLinearGradient(x0, 0, x1, 0);
          colorStops.forEach(c => g.addColorStop(c[0] / 50, c[1]));
          return g;
        }
      }]
    },
    options: {
      responsive: false,
      animation: false,
      events: [],
      layout: { padding: { left: 42, top: 14, right: 27, bottom: 0 } },
      plugins: { legend: { display: false }, tooltip: { enabled: false } },
      scales: {
        x: {
          type: 'linear', min: 0, max: 52.6,
          afterFit(scale) { scale.height = 33; },
          afterBuildTicks(scale) { scale.ticks = colorbarTicks.map(v => ({ value: v })); },
          ticks: { autoSkip: false, maxRotation: 0, padding: 5, color: '#111', font: fontBase, callback: v => v + '%' },
          grid: { drawOnChartArea: false, tickLength: 6, tickColor: '#222', tickWidth: 1 },
          border: { display: false }
        },
        y: { type: 'linear', min: 0, max: 1, display: false }
      }
    }
  });
}

addColorbar();
</script>
</body>
</html>
